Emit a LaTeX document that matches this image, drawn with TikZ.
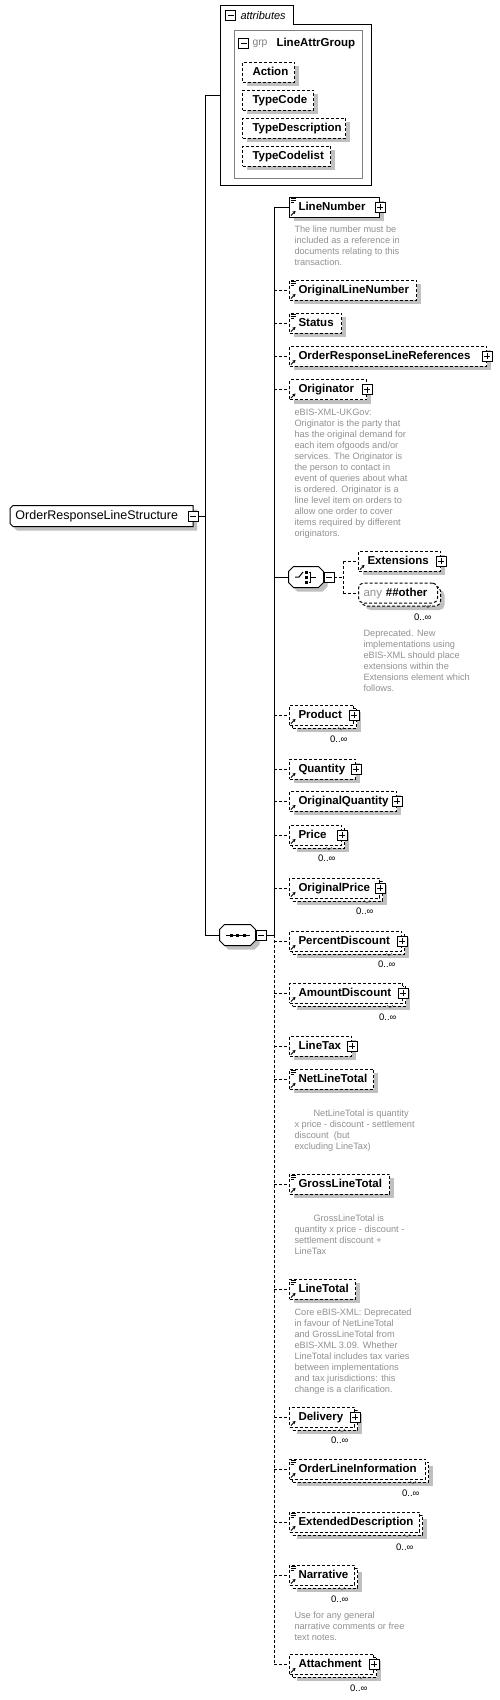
\documentclass[tikz,border=0pt]{standalone}
\usepackage{fontspec}
\setmainfont{Liberation Sans}
\usetikzlibrary{shadows,arrows.meta}

\definecolor{shadowgray}{RGB}{192,192,192}
\definecolor{desctext}{RGB}{145,145,145}
\definecolor{grpgray}{RGB}{128,128,128}

\newcommand\elemfont{\fontsize{11.5}{13}\selectfont\bfseries}
\newcommand\descfont{\fontsize{9.2}{11}\selectfont}
\newcommand\multfont{\fontsize{9.5}{11}\selectfont}

\tikzset{
  plusbox/.pic={\path[draw,fill=white,solid] (-5,-5) rectangle (5,5);
                \path[draw,solid] (-3,0) -- (3,0) (0,-3) -- (0,3);},
  minusbox/.pic={\path[draw,fill=white,solid] (-5,-5) rectangle (5,5);
                 \path[draw,solid] (-3,0) -- (3,0);},
  simplemark/.pic={\path[draw,solid,line width=.8pt] (1.5,1.5) -- (6.5,1.5) (1.5,3.5) -- (6.5,3.5) (1.5,5.5) -- (5,5.5);},
  refmark/.pic={\path[draw,solid,-{Stealth[length=3pt,width=3.5pt]}] (2,-2) -- (6.5,-6.5);},
  notch/.pic={\path[draw,solid,line width=.6pt,black!60] (-3,-1) -- (0,2) -- (3,-1);}
}

\begin{document}
\begin{tikzpicture}[x=1pt,y=-1pt,line width=1pt]
  \tikzstyle{elem}=[draw,fill=white,anchor=west,minimum height=20pt,inner sep=0pt,align=left,text height=8.5pt,text depth=2.5pt,font=\elemfont]
  \tikzstyle{opt}=[elem,dash pattern=on 3pt off 2pt]
  \tikzstyle{shd}=[drop shadow={shadow xshift=4pt,shadow yshift=-4pt,fill=shadowgray,opacity=1}]
  \tikzstyle{desc}=[anchor=north west,inner sep=0pt,align=left,text=desctext,font=\descfont]
  \tikzstyle{mult}=[anchor=east,inner sep=0pt,font=\multfont]
  \tikzstyle{compositor}=[minimum width=35pt,minimum height=20pt,inner sep=0pt]
  \tikzstyle{conn}=[draw]
  \tikzstyle{optconn}=[draw,dash pattern=on 3pt off 2pt]

  \useasboundingbox[fill=white] (0,0) rectangle (500,1700);

  % global element
  \path (10,516) node[anchor=west,minimum width=182pt,minimum height=20pt,inner sep=0pt] (glob) {};
  \path[draw,fill=white,shd] ([xshift=3pt]glob.north west) -- (glob.north east) -- (glob.south east) -- ([xshift=3pt]glob.south west) -- ([yshift=3pt]glob.south west) -- ([yshift=-3pt]glob.north west) -- cycle;
  \path ([xshift=5pt]glob.west) node[anchor=west,inner sep=0pt,font=\fontsize{12.5}{14}\selectfont] (globlabel) {OrderResponseLineStructure};

  % attributes
  \path (220,5) node[anchor=north west,minimum width=150pt,minimum height=179pt,inner sep=0pt] (attrs) {};
  \path[draw] (attrs.south west) |- ([xshift=73pt]attrs.north west) |- ([yshift=-19pt]attrs.north east) |- (attrs.south west) -- cycle;
  \path (240,15.5) node[anchor=west,inner sep=0pt,font=\fontsize{11}{12}\selectfont\itshape] (attrlabel) {attributes};
  \path (234,30) node[anchor=north west,draw=grpgray,minimum width=128pt,minimum height=148pt,inner sep=0pt] (grp) {};
  \path (252,43.5) node[anchor=west,inner sep=0pt,text=grpgray,font=\fontsize{10.4}{12}\selectfont] (grplabel) {grp};
  \path (276,43.5) node[anchor=west,inner sep=0pt,font=\elemfont] (grpname) {LineAttrGroup};
  \path (242,72)  node[opt,shd,text width=52pt]  (action)   {\hspace*{10pt}Action};
  \path (242,100) node[opt,shd,text width=71pt]  (typecode) {\hspace*{10pt}TypeCode};
  \path (242,128) node[opt,shd,text width=103pt] (typedesc) {\hspace*{10pt}TypeDescription};
  \path (242,156) node[opt,shd,text width=88pt]  (typelist) {\hspace*{10pt}TypeCodelist};

  % compositors
  \path (237.5,935) node[compositor] (seq) {};
  \path (306,577) node[compositor,minimum width=34pt] (choice) {};
  \path[draw,fill=white,shd] ([xshift=5pt]seq.north west) -- ([xshift=-5pt]seq.north east) -- ([yshift=-5pt]seq.north east) -- ([yshift=5pt]seq.south east) -- ([xshift=-5pt]seq.south east) -- ([xshift=5pt]seq.south west) -- ([yshift=5pt]seq.south west) -- ([yshift=-5pt]seq.north west) -- cycle;
  \path[draw,fill=white,shd] ([xshift=5pt]choice.north west) -- ([xshift=-5pt]choice.north east) -- ([yshift=-5pt]choice.north east) -- ([yshift=5pt]choice.south east) -- ([xshift=-5pt]choice.south east) -- ([xshift=5pt]choice.south west) -- ([yshift=5pt]choice.south west) -- ([yshift=-5pt]choice.north west) -- cycle;
  \path[draw] (226,935) -- (250,935);
  \path[fill] (231,935) +(-1.5,-1.5) rectangle +(1.5,1.5);
  \path[fill] (237.5,935) +(-1.5,-1.5) rectangle +(1.5,1.5);
  \path[fill] (244,935) +(-1.5,-1.5) rectangle +(1.5,1.5);
  \path[draw] (295,577) -- (299,577) -- (303,572);
  \path[fill] (305,570.5) rectangle +(3,3);
  \path[fill] (305,575.5) rectangle +(3,3);
  \path[fill] (305,580.5) rectangle +(3,3);
  \path[draw] (308.5,572) -- (310.5,572) -- (310.5,582) -- (308.5,582) (310.5,577) -- (316,577);

  % sequence children
  \path (289,207)  node[elem,shd,text width=90pt]  (linenumber) {\hspace*{9pt}LineNumber};
  \path (289,290)  node[opt,shd,text width=127pt]  (origline)   {\hspace*{9pt}OriginalLineNumber};
  \path (289,323)  node[opt,shd,text width=52pt]   (status)     {\hspace*{9pt}Status};
  \path (289,356)  node[opt,shd,text width=197pt]  (linerefs)   {\hspace*{9pt}OrderResponseLineReferences};
  \path (289,389.5) node[opt,shd,text width=77pt]  (originator) {\hspace*{9pt}Originator};
  \path (358,561)  node[opt,shd,text width=82pt]   (extensions) {\hspace*{9pt}Extensions};
  \path (361,596)  node[opt,shd,rounded corners=5pt,text width=79pt] (anyother-b) {};
  \path (358,593)  node[opt,rounded corners=5pt,text width=79pt] (anyother) {\hspace*{5pt}{\mdseries\color{desctext}any}\ \#\#other};
  \path (292,718)  node[opt,shd,text width=64pt]   (product-b)  {};
  \path (289,715)  node[opt,text width=64pt]       (product)    {\hspace*{9pt}Product};
  \path (289,769)  node[opt,shd,text width=66pt]   (quantity)   {\hspace*{9pt}Quantity};
  \path (289,801)  node[opt,shd,text width=107pt]  (origqty)    {\hspace*{9pt}OriginalQuantity};
  \path (292,838)  node[opt,shd,text width=52pt]   (price-b)    {};
  \path (289,835)  node[opt,text width=52pt]       (price)      {\hspace*{9pt}Price};
  \path (292,891)  node[opt,shd,text width=90pt]   (origprice-b) {};
  \path (289,888)  node[opt,text width=90pt]       (origprice)  {\hspace*{9pt}OriginalPrice};
  \path (292,944)  node[opt,shd,text width=112pt]  (pctdisc-b)  {};
  \path (289,941)  node[opt,text width=112pt]      (pctdisc)    {\hspace*{9pt}PercentDiscount};
  \path (292,996)  node[opt,shd,text width=113pt]  (amtdisc-b)  {};
  \path (289,993)  node[opt,text width=113pt]      (amtdisc)    {\hspace*{9pt}AmountDiscount};
  \path (289,1046) node[opt,shd,text width=62pt]   (linetax)    {\hspace*{9pt}LineTax};
  \path (289,1079) node[opt,shd,text width=84pt]   (netline)    {\hspace*{9pt}NetLineTotal};
  \path (289,1184) node[opt,shd,text width=100pt]  (grossline)  {\hspace*{9pt}GrossLineTotal};
  \path (289,1289) node[opt,shd,text width=66pt]   (linetotal)  {\hspace*{9pt}LineTotal};
  \path (292,1420) node[opt,shd,text width=65pt]   (delivery-b) {};
  \path (289,1417) node[opt,text width=65pt]       (delivery)   {\hspace*{9pt}Delivery};
  \path (292,1472) node[opt,shd,text width=136pt]  (lineinfo-b) {};
  \path (289,1469) node[opt,text width=136pt]      (lineinfo)   {\hspace*{9pt}OrderLineInformation};
  \path (292,1525) node[opt,shd,text width=130pt]  (extdesc-b)  {};
  \path (289,1522) node[opt,text width=130pt]      (extdesc)    {\hspace*{9pt}ExtendedDescription};
  \path (292,1578) node[opt,shd,text width=65pt]   (narrative-b) {};
  \path (289,1575) node[opt,text width=65pt]       (narrative)  {\hspace*{9pt}Narrative};
  \path (292,1667) node[opt,shd,text width=84pt]   (attachment-b) {};
  \path (289,1664) node[opt,text width=84pt]       (attachment) {\hspace*{9pt}Attachment};

  % multiplicities
  \path ([xshift=-6pt,yshift=-24pt]anyother.east) node[mult] (anyother-m) {0..∞};
  \path ([xshift=-6pt,yshift=-24pt]product.east) node[mult] (product-m) {0..∞};
  \path ([xshift=-6pt,yshift=-23pt]price.east) node[mult] (price-m) {0..∞};
  \path ([xshift=-6pt,yshift=-23pt]origprice.east) node[mult] (origprice-m) {0..∞};
  \path ([xshift=-6pt,yshift=-23pt]pctdisc.east) node[mult] (pctdisc-m) {0..∞};
  \path ([xshift=-6pt,yshift=-24pt]amtdisc.east) node[mult] (amtdisc-m) {0..∞};
  \path ([xshift=-6pt,yshift=-23pt]delivery.east) node[mult] (delivery-m) {0..∞};
  \path ([xshift=-6pt,yshift=-24pt]lineinfo.east) node[mult] (lineinfo-m) {0..∞};
  \path ([xshift=-6pt,yshift=-25pt]extdesc.east) node[mult] (extdesc-m) {0..∞};
  \path ([xshift=-6pt,yshift=-24pt]narrative.east) node[mult] (narrative-m) {0..∞};
  \path ([xshift=-6pt,yshift=-24pt]attachment.east) node[mult] (attachment-m) {0..∞};

  % documentation
  \path (294,225.5) node[desc] (linenumber-d) {The line number must be\\included as a reference in\\documents relating to this\\transaction.};
  \path (294,408.5) node[desc] (originator-d) {eBIS-XML-UKGov:\\Originator is the party that\\has the original demand for\\each item ofgoods and/or\\services. The Originator is\\the person to contact in\\event of queries about what\\is ordered. Originator is a\\line level item on orders to\\allow one order to cover\\items required by different\\originators.};
  \path (363,629.5) node[desc] (anyother-d) {Deprecated. New\\implementations using\\eBIS-XML should place\\extensions within the\\Extensions element which\\follows.};
  \path (294,1109.5) node[desc] (netline-d) {\hspace*{19pt}NetLineTotal is quantity\\x price - discount - settlement\\discount~ (but\\excluding LineTax)};
  \path (294,1214.5) node[desc] (grossline-d) {\hspace*{19pt}GrossLineTotal is\\quantity x price - discount -\\settlement discount +\\LineTax};
  \path (294,1308.5) node[desc] (linetotal-d) {Core eBIS-XML: Deprecated\\in favour of NetLineTotal\\and GrossLineTotal from\\eBIS-XML 3.09. Whether\\LineTotal includes tax varies\\between implementations\\and tax jurisdictions: this\\change is a clarification.};
  \path (294,1611.5) node[desc] (narrative-d) {Use for any general\\narrative comments or free\\text notes.};

  % connectors
  \coordinate (trunk) at (205,516);
  \coordinate (seqbar) at (274,935);
  \coordinate (choicebar) at (343,577);
  \path[conn] (glob.east) -- (trunk);
  \path[conn] (trunk |- attrs.west) -- (trunk |- seq.west);
  \path[conn] (trunk |- attrs.west) -- (attrs.west);
  \path[conn] (trunk |- seq.west) -- (seq.west);
  \path[conn] (seq.east) -- (seqbar);
  \path[conn] (seqbar) -- (seqbar |- linenumber.west);
  \path[optconn] (seqbar) -- (seqbar |- attachment.west);
  \path[conn] (seqbar |- linenumber.west) -- (linenumber.west);
  \path[optconn] (seqbar |- origline.west) -- (origline.west);
  \path[optconn] (seqbar |- status.west) -- (status.west);
  \path[optconn] (seqbar |- linerefs.west) -- (linerefs.west);
  \path[optconn] (seqbar |- originator.west) -- (originator.west);
  \path[conn] (seqbar |- choice.west) -- (choice.west);
  \path[optconn] (seqbar |- product.west) -- (product.west);
  \path[optconn] (seqbar |- quantity.west) -- (quantity.west);
  \path[optconn] (seqbar |- origqty.west) -- (origqty.west);
  \path[optconn] (seqbar |- price.west) -- (price.west);
  \path[optconn] (seqbar |- origprice.west) -- (origprice.west);
  \path[optconn] (seqbar |- pctdisc.west) -- (pctdisc.west);
  \path[optconn] (seqbar |- amtdisc.west) -- (amtdisc.west);
  \path[optconn] (seqbar |- linetax.west) -- (linetax.west);
  \path[optconn] (seqbar |- netline.west) -- (netline.west);
  \path[optconn] (seqbar |- grossline.west) -- (grossline.west);
  \path[optconn] (seqbar |- linetotal.west) -- (linetotal.west);
  \path[optconn] (seqbar |- delivery.west) -- (delivery.west);
  \path[optconn] (seqbar |- lineinfo.west) -- (lineinfo.west);
  \path[optconn] (seqbar |- extdesc.west) -- (extdesc.west);
  \path[optconn] (seqbar |- narrative.west) -- (narrative.west);
  \path[optconn] (seqbar |- attachment.west) -- (attachment.west);
  \path[optconn] (choice.east) -- (choicebar);
  \path[optconn] (choicebar |- extensions.west) -- (choicebar |- anyother.west);
  \path[optconn] (choicebar |- extensions.west) -- (extensions.west);
  \path[optconn] (choicebar |- anyother.west) -- (anyother.west);

  % expand / collapse boxes
  \path (230.5,15.5) pic {minusbox};
  \path (243.5,43.5) pic {minusbox};
  \path (glob.east) pic {minusbox};
  \path ([xshift=5.5pt]seq.east) pic {minusbox};
  \path ([xshift=5.5pt]choice.east) pic {minusbox};
  \path (linenumber.east) pic {plusbox};
  \path (linerefs.east) pic {plusbox};
  \path (originator.east) pic {plusbox};
  \path (extensions.east) pic {plusbox};
  \path (product.east) pic {plusbox};
  \path (quantity.east) pic {plusbox};
  \path (origqty.east) pic {plusbox};
  \path (price.east) pic {plusbox};
  \path (origprice.east) pic {plusbox};
  \path (pctdisc.east) pic {plusbox};
  \path (amtdisc.east) pic {plusbox};
  \path (linetax.east) pic {plusbox};
  \path (delivery.east) pic {plusbox};
  \path (attachment.east) pic {plusbox};

  % element marks
  \path (linenumber.north west) pic {simplemark};
  \path (origline.north west) pic {simplemark};
  \path (status.north west) pic {simplemark};
  \path (netline.north west) pic {simplemark};
  \path (grossline.north west) pic {simplemark};
  \path (linetotal.north west) pic {simplemark};
  \path (lineinfo.north west) pic {simplemark};
  \path (extdesc.north west) pic {simplemark};
  \path (narrative.north west) pic {simplemark};
  \path (linenumber.south west) pic {refmark};
  \path (origline.south west) pic {refmark};
  \path (status.south west) pic {refmark};
  \path (linerefs.south west) pic {refmark};
  \path (originator.south west) pic {refmark};
  \path (extensions.south west) pic {refmark};
  \path (product.south west) pic {refmark};
  \path (quantity.south west) pic {refmark};
  \path (origqty.south west) pic {refmark};
  \path (price.south west) pic {refmark};
  \path (origprice.south west) pic {refmark};
  \path (pctdisc.south west) pic {refmark};
  \path (amtdisc.south west) pic {refmark};
  \path (linetax.south west) pic {refmark};
  \path (netline.south west) pic {refmark};
  \path (grossline.south west) pic {refmark};
  \path (linetotal.south west) pic {refmark};
  \path (delivery.south west) pic {refmark};
  \path (lineinfo.south west) pic {refmark};
  \path (extdesc.south west) pic {refmark};
  \path (narrative.south west) pic {refmark};
  \path (attachment.south west) pic {refmark};

  % multiplicity notches
  \path ([xshift=-10pt,yshift=-13pt]anyother.east) pic {notch};
  \path ([xshift=-13pt,yshift=-13pt]product.east) pic {notch};
  \path ([xshift=-13pt,yshift=-13pt]price.east) pic {notch};
  \path ([xshift=-13pt,yshift=-13pt]origprice.east) pic {notch};
  \path ([xshift=-13pt,yshift=-13pt]pctdisc.east) pic {notch};
  \path ([xshift=-13pt,yshift=-13pt]amtdisc.east) pic {notch};
  \path ([xshift=-13pt,yshift=-13pt]delivery.east) pic {notch};
  \path ([xshift=-13pt,yshift=-13pt]lineinfo.east) pic {notch};
  \path ([xshift=-13pt,yshift=-13pt]extdesc.east) pic {notch};
  \path ([xshift=-13pt,yshift=-13pt]narrative.east) pic {notch};
  \path ([xshift=-13pt,yshift=-13pt]attachment.east) pic {notch};
\end{tikzpicture}
\end{document}
